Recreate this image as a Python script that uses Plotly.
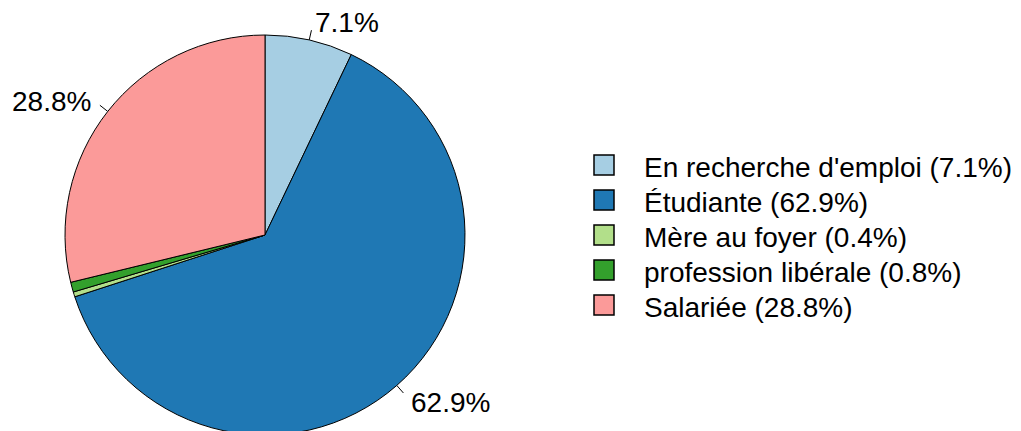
import numpy as np
import plotly.graph_objs as go

categories = ["En recherche d'emploi", "Étudiante", "Mère au foyer",
              "profession libérale", "Salariée"]
percents = [7.1, 62.9, 0.4, 0.8, 28.8]
pie_labels = ["7.1%", "62.9%", "", "", "28.8%"]
colors = ["#A6CEE3", "#1F78B4", "#B2DF8A", "#33A02C", "#FB9A99"]

W, H = 1021, 431
OFF = 8  # page body margin: the figure starts 8px right/down in the window
# pie geometry in window pixels (y downward)
cx, cy, r = 265, 235, 200
FONT = "Liberation Sans, Arial, sans-serif"
FS = 28

fig = go.Figure()

fig.add_trace(go.Pie(
    values=percents, labels=categories, sort=False, direction="clockwise",
    rotation=0, textinfo="none", showlegend=False, hoverinfo="label+percent",
    marker=dict(colors=colors, line=dict(color="black", width=1)),
    domain=dict(x=[(cx - OFF - r) / W, (cx - OFF + r) / W],
                y=[(H - (cy - OFF + r)) / H, (H - (cy - OFF - r)) / H]),
))

# slice labels with tick marks, as R's pie() does
annotations = []
cum = np.cumsum([0] + percents)
for i, lab in enumerate(pie_labels):
    if not lab:
        continue
    mid = (cum[i] + cum[i + 1]) / 2 / sum(percents) * 2 * np.pi
    sx, sy = np.sin(mid), -np.cos(mid)
    fig.add_trace(go.Scatter(
        x=[cx + r * sx, cx + 1.05 * r * sx], y=[cy + r * sy, cy + 1.05 * r * sy],
        mode="lines", line=dict(color="black", width=1),
        hoverinfo="skip", showlegend=False))
    annotations.append(dict(
        x=cx + 1.1 * r * sx, y=cy + 1.1 * r * sy + 2, text=lab,
        showarrow=False, borderpad=0,
        xanchor="left" if sx > 0 else "right", yanchor="middle",
        font=dict(size=FS, color="black", family=FONT)))

# legend drawn by hand so the boxes match the reference size
leg_x, leg_y0, leg_dy = 604, 165, 35
leg_y = [leg_y0 + i * leg_dy for i in range(len(categories))]
fig.add_trace(go.Scatter(
    x=[leg_x] * len(categories), y=leg_y, mode="markers",
    marker=dict(symbol="square", size=20, color=colors,
                line=dict(color="black", width=1.5)),
    hoverinfo="skip", showlegend=False))
for cat, pct, y in zip(categories, percents, leg_y):
    annotations.append(dict(
        x=leg_x + 38, y=y + 2, text=f"{cat} ({pct}%)", showarrow=False,
        xanchor="left", yanchor="middle",
        font=dict(size=FS, color="black", family=FONT)))

fig.update_layout(
    width=W, height=H,
    margin=dict(l=0, r=0, t=0, b=0),
    paper_bgcolor="white", plot_bgcolor="white",
    xaxis=dict(range=[OFF, W + OFF], visible=False, fixedrange=True),
    yaxis=dict(range=[H + OFF, OFF], visible=False, fixedrange=True),
    annotations=annotations,
    showlegend=False,
    font=dict(family=FONT),
)

fig.write_html("out.html")
